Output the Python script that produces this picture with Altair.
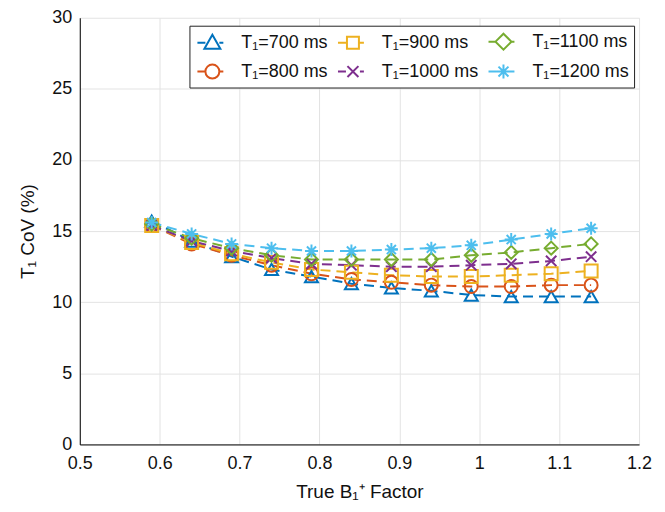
import altair as alt
import pandas as pd

b1_factor = [0.59, 0.64, 0.69, 0.74, 0.79, 0.84, 0.89, 0.94, 0.99, 1.04, 1.09, 1.14]
cov_700 = [15.7, 14.3, 13.2, 12.3, 11.8, 11.3, 11.0, 10.8, 10.5, 10.4, 10.4, 10.4]
cov_800 = [15.4, 14.1, 13.3, 12.6, 12.0, 11.6, 11.4, 11.2, 11.1, 11.1, 11.2, 11.2]
cov_900 = [15.4, 14.2, 13.4, 12.8, 12.3, 12.1, 11.9, 11.8, 11.8, 11.9, 12.0, 12.2]
cov_1000 = [15.4, 14.3, 13.6, 13.1, 12.7, 12.6, 12.5, 12.5, 12.6, 12.7, 12.9, 13.2]
cov_1100 = [15.5, 14.5, 13.8, 13.3, 13.0, 13.0, 13.0, 13.0, 13.3, 13.5, 13.8, 14.1]
cov_1200 = [15.6, 14.8, 14.1, 13.8, 13.6, 13.6, 13.7, 13.8, 14.0, 14.4, 14.8, 15.2]

series_names = ["T₁=700 ms", "T₁=800 ms", "T₁=900 ms", "T₁=1000 ms", "T₁=1100 ms", "T₁=1200 ms"]
series_values = [cov_700, cov_800, cov_900, cov_1000, cov_1100, cov_1200]
series_colors = ["#0072BD", "#D95319", "#EDB120", "#7E2F8E", "#77AC30", "#4DBEEE"]
x_path = "M-0.8,-0.8L0.8,0.8M0.8,-0.8L-0.8,0.8"
star_path = "M-1,0L1,0M0,-1L0,1M-0.7,-0.7L0.7,0.7M0.7,-0.7L-0.7,0.7"
series_shapes = ["triangle-up", "circle", "square", x_path, "diamond", star_path]

# legend symbols: dashed-line stub with the marker drawn on it (shifted right in its box)
seg = "M-0.8,0H0M1.4,0H1.8"
legend_shapes = [
    seg + "M0.7,-0.8L1.5,0.6L-0.1,0.6Z",
    seg + "M1.4,0A0.7,0.7 0 1,1 0,0A0.7,0.7 0 1,1 1.4,0Z",
    seg + "M0.1,-0.6H1.3V0.6H0.1Z",
    seg + "M0.15,-0.55L1.25,0.55M1.25,-0.55L0.15,0.55",
    seg + "M0.7,-0.8L1.5,0L0.7,0.8L-0.1,0Z",
    seg + "M0,0H1.4M0.7,-0.7V0.7M0.2,-0.5L1.2,0.5M1.2,-0.5L0.2,0.5",
]

rows = []
for name, vals in zip(series_names, series_values):
    for xv, yv in zip(b1_factor, vals):
        rows.append({"b1": xv, "cov": yv, "series": name})
df = pd.DataFrame(rows)

x_enc = alt.X("b1:Q", scale=alt.Scale(domain=[0.5, 1.2], nice=False),
              axis=alt.Axis(title="True B₁⁺ Factor", values=[0.5, 0.6, 0.7, 0.8, 0.9, 1.0, 1.1, 1.2],
                            format="~g", labelFlush=False))
y_enc = alt.Y("cov:Q", scale=alt.Scale(domain=[0, 30], nice=False),
              axis=alt.Axis(title="T₁ CoV (%)", values=[0, 5, 10, 15, 20, 25, 30]))

legend_def = alt.Legend(title=None, orient="none", legendX=110, legendY=8, columns=3)


def color_scale():
    return alt.Scale(domain=series_names, range=series_colors)


lines = alt.Chart(df).mark_line(strokeDash=[10, 6], strokeWidth=2).encode(
    x=x_enc, y=y_enc, color=alt.Color("series:N", scale=color_scale(), legend=None),
    detail="series:N"
)
points = alt.Chart(df).mark_point(filled=False, strokeWidth=2, size=170, opacity=1).encode(
    x=x_enc, y=y_enc,
    color=alt.Color("series:N", scale=color_scale(), legend=None),
    shape=alt.Shape("series:N", scale=alt.Scale(domain=series_names, range=series_shapes),
                    legend=None)
)
legend_layer = alt.Chart(df).transform_filter("false").mark_point(
    filled=False, strokeWidth=2, opacity=1
).encode(
    x=x_enc, y=y_enc,
    color=alt.Color("series:N", scale=color_scale(), legend=legend_def),
    shape=alt.Shape("series:N", scale=alt.Scale(domain=series_names, range=legend_shapes),
                    legend=legend_def)
)

chart = alt.layer(lines, points, legend_layer).resolve_scale(
    shape="independent", color="independent"
).properties(
    width=561, height=428,
    padding={"left": 10, "top": 0, "right": 5, "bottom": 5}
).configure_view(
    stroke=None
).configure_axis(
    domainColor="black", domainWidth=1, grid=True, gridColor="#e3e3e3", gridWidth=1,
    ticks=False, labelFont="Liberation Sans", labelFontSize=18, labelColor="#111",
    titleFont="Liberation Sans", titleFontSize=19, titleFontWeight="normal", titleColor="#111",
    labelPadding=8
).configure_axisX(titlePadding=10, labelPadding=10).configure_axisY(titlePadding=14).configure_legend(
    fillColor="white", strokeColor="#222", strokeWidth=1, padding=5,
    labelFont="Liberation Sans", labelFontSize=18, labelColor="#111",
    symbolSize=400, symbolStrokeWidth=2, columnPadding=6, rowPadding=7, labelLimit=200,
    labelOffset=25
)

chart.save("out.html", embed_options={"renderer": "svg", "actions": False})
